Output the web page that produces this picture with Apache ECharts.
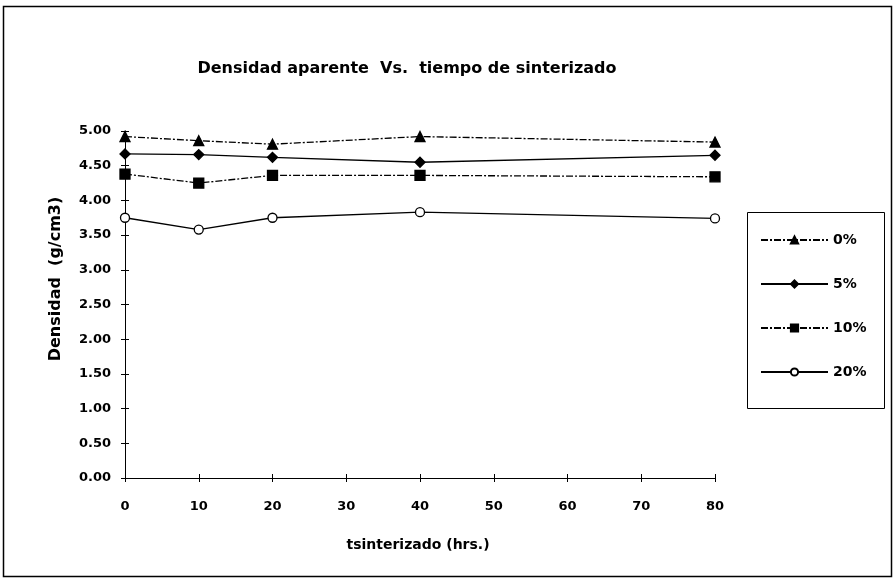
<!DOCTYPE html>
<html>
<head>
<meta charset="utf-8">
<script src="https://cdn.jsdelivr.net/npm/echarts@6/dist/echarts.min.js"></script>
<style>
  html, body { margin: 0; padding: 0; background: #fff; }
  #chart { width: 896px; height: 582px; }
</style>
</head>
<body>
<div id="chart"></div>
<script>
// Sintering time (hours) and apparent density (g/cm3) per additive content
const hours = [0, 10, 20, 40, 80];
const seriesNames = ['0%', '5%', '10%', '20%'];
const dens0 = [4.92, 4.86, 4.81, 4.92, 4.84];
const dens5 = [4.67, 4.66, 4.62, 4.55, 4.65];
const dens10 = [4.38, 4.25, 4.36, 4.36, 4.34];
const dens20 = [3.75, 3.58, 3.75, 3.83, 3.74];
const xTicks = [0, 10, 20, 30, 40, 50, 60, 70, 80];
const yTicks = [0, 0.5, 1, 1.5, 2, 2.5, 3, 3.5, 4, 4.5, 5];

const FONT = '"DejaVu Sans", "Liberation Sans", sans-serif';
const pairs = arr => hours.map((h, i) => [h, arr[i]]);

const chart = echarts.init(document.getElementById('chart'), null, { renderer: 'canvas' });

const labelStyle = { color: '#000', fontFamily: FONT, fontWeight: 'bold', fontSize: 13 };

function lineSeries(name, data, symbol, size, dash, fill) {
  return {
    name, type: 'line', data: pairs(data),
    symbol, symbolSize: size,
    showSymbol: true,
    lineStyle: { color: '#000', width: 1.3, type: dash },
    itemStyle: { color: fill, borderColor: '#000', borderWidth: 1.3 },
    emphasis: { disabled: true },
    animation: false
  };
}

// plain axis copies that only add the inward half of each tick mark
const innerTicks = extra => Object.assign({
  type: 'value', axisLine: { show: false }, splitLine: { show: false },
  axisLabel: { show: false },
  axisTick: { show: true, inside: true, length: 4, lineStyle: { color: '#000' } }
}, extra);

chart.setOption({
  backgroundColor: '#fff',
  animation: false,
  title: {
    text: 'Densidad aparente  Vs.  tiempo de sinterizado',
    left: 402, top: 56, textAlign: 'center',
    textStyle: { fontFamily: FONT, fontWeight: 'bold', fontSize: 16, color: '#000' }
  },
  grid: { left: 125, right: 181, top: 131, bottom: 104 },
  xAxis: [{
    type: 'value', min: 0, max: 80, interval: 10,
    axisLine: { show: true, lineStyle: { color: '#000', width: 1 } },
    splitLine: { show: false },
    axisTick: { show: true, length: 4, lineStyle: { color: '#000' } },
    axisLabel: Object.assign({}, labelStyle, { margin: 22,
      formatter: v => xTicks.includes(v) ? String(v) : '' })
  }, innerTicks({ min: 0, max: 80, interval: 10, position: 'bottom' })],
  yAxis: [{
    type: 'value', min: 0, max: 5, interval: 0.5,
    axisLine: { show: true, lineStyle: { color: '#000', width: 1 } },
    splitLine: { show: false },
    axisTick: { show: true, length: 4, lineStyle: { color: '#000' } },
    axisLabel: Object.assign({}, labelStyle, { margin: 14,
      formatter: v => yTicks.some(t => Math.abs(t - v) < 1e-6) ? v.toFixed(2) : '' })
  }, innerTicks({ min: 0, max: 5, interval: 0.5, position: 'left' })],
  legend: {
    orient: 'vertical',
    left: 760, top: 233,
    padding: 0,
    itemGap: 30,
    itemWidth: 67, itemHeight: 9,
    data: seriesNames,
    textStyle: { fontFamily: FONT, fontWeight: 'bold', fontSize: 14, color: '#000' },
    selectedMode: false
  },
  graphic: [
    { // outer frame
      type: 'rect', silent: true,
      shape: { x: 3.5, y: 6.5, width: 888, height: 570 },
      style: { fill: 'none', stroke: '#000', lineWidth: 1.5 }
    },
    { // legend frame
      type: 'rect', silent: true,
      shape: { x: 747.5, y: 212.5, width: 137, height: 196 },
      style: { fill: 'none', stroke: '#000', lineWidth: 1 }
    },
    {
      type: 'text', silent: true,
      x: 56, y: 279, rotation: Math.PI / 2,
      style: { text: 'Densidad  (g/cm3)', fill: '#000', font: 'bold 16px ' + FONT,
               align: 'center', verticalAlign: 'middle' }
    },
    {
      type: 'text', silent: true,
      x: 418, y: 545,
      style: { text: 'tsinterizado (hrs.)', fill: '#000', font: 'bold 14px ' + FONT,
               align: 'center', verticalAlign: 'middle' }
    }
  ],
  series: [
    lineSeries(seriesNames[0], dens0, 'triangle', 10, [7, 2, 2, 2], '#000'),
    lineSeries(seriesNames[1], dens5, 'diamond', 10, 'solid', '#000'),
    lineSeries(seriesNames[2], dens10, 'rect', 10, [7, 2, 2, 2], '#000'),
    lineSeries(seriesNames[3], dens20, 'circle', 9, 'solid', '#fff')
  ]
});
</script>
</body>
</html>
